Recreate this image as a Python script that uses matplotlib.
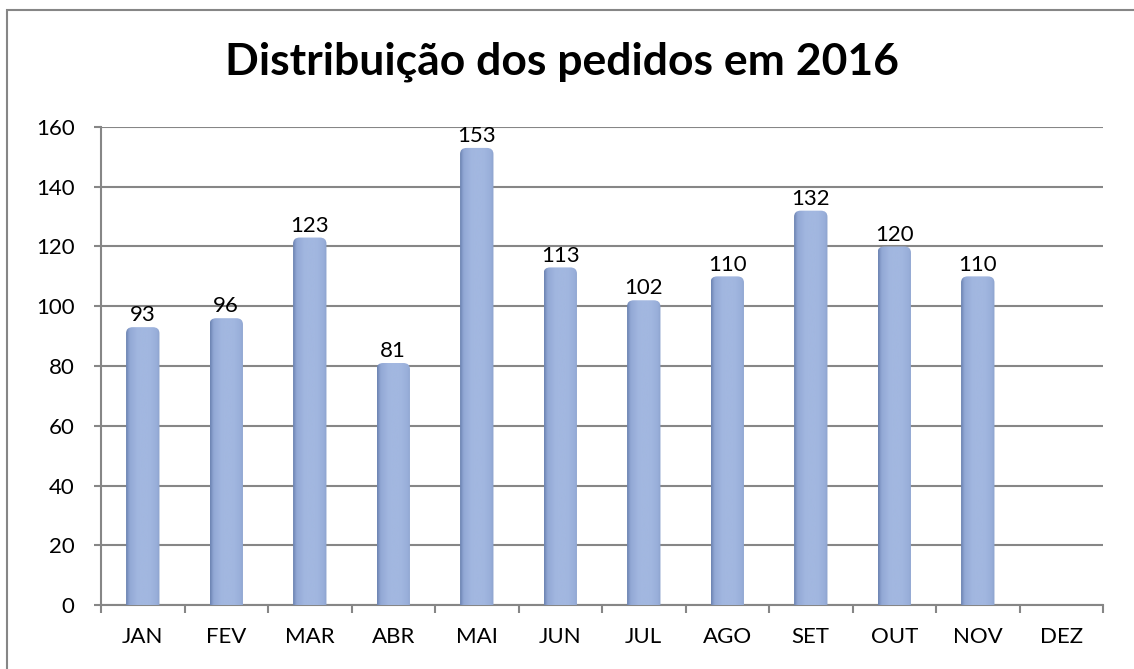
import numpy as np
import matplotlib as mpl
import matplotlib.pyplot as plt
from matplotlib.patches import FancyBboxPatch, Rectangle
from matplotlib.colors import LinearSegmentedColormap

mpl.rcParams['font.family'] = ['Lato', 'DejaVu Sans']

meses = ['JAN', 'FEV', 'MAR', 'ABR', 'MAI', 'JUN', 'JUL', 'AGO', 'SET', 'OUT', 'NOV', 'DEZ']
pedidos = [93, 96, 123, 81, 153, 113, 102, 110, 132, 120, 110, None]
titulo = 'Distribuição dos pedidos em 2016'
yticks = list(range(0, 161, 20))

W, H = 1134, 669
fig = plt.figure(figsize=(W / 100, H / 100), dpi=100)
ax = fig.add_axes([101 / W, 1 - 605 / H, (1103 - 101) / W, (605 - 127) / H])

grid_c = '#868686'
bar_w = 0.4
fs = 16
cmap = LinearSegmentedColormap.from_list('cyl', [
    (0.0, '#6c83b2'), (0.1, '#92a8d5'), (0.35, '#a2b7e0'),
    (0.7, '#a2b7e0'), (0.92, '#98aed9'), (1.0, '#8ca2cd')])
grad = np.linspace(0, 1, 64).reshape(1, -1)

x = np.arange(len(meses))
for xi, v in zip(x, pedidos):
    if v is None:
        continue
    # rounded top: extend the box below zero so only the top corners show
    p = FancyBboxPatch((xi - bar_w / 2, -3), bar_w, v + 3,
                       boxstyle='round,pad=0,rounding_size=0.08',
                       mutation_aspect=26, fc='none', ec='none')
    ax.add_patch(p)
    im = ax.imshow(grad, cmap=cmap, aspect='auto', interpolation='bicubic',
                   extent=(xi - bar_w / 2, xi + bar_w / 2, 0, v), zorder=3)
    im.set_clip_path(p)
    ax.text(xi, v + 0.6, str(v), ha='center', va='bottom', fontsize=fs, zorder=4)

ax.set_xlim(-0.5, len(meses) - 0.5)
ax.set_ylim(0, 160)
ax.set_yticks(yticks)
ax.yaxis.grid(True, color=grid_c, lw=1.5)
ax.set_axisbelow(True)

ax.set_xticks(np.arange(-0.5, len(meses)), labels=[''] * (len(meses) + 1))
ax.set_xticks(x, labels=meses, minor=True)
ax.tick_params(axis='x', which='major', length=6, width=1.5, color=grid_c)
ax.tick_params(axis='x', which='minor', length=0, pad=16, labelsize=fs)
ax.tick_params(axis='y', length=5, width=1.5, color=grid_c, pad=14, labelsize=fs)

for s in ['top', 'right']:
    ax.spines[s].set_visible(False)
for s in ['left', 'bottom']:
    ax.spines[s].set_color(grid_c)
    ax.spines[s].set_linewidth(1.5)

fig.text(562 / W, 1 - 75 / H, titulo, ha='center', va='baseline',
         fontsize=32, fontweight='bold')

# chart frame (only top and left edges visible)
fig.add_artist(Rectangle((7 / W, -0.1), 1.2, 1.1 - 10 / H, transform=fig.transFigure,
                         fill=False, ec=grid_c, lw=1.5))

fig.savefig('out.png', dpi=100)
